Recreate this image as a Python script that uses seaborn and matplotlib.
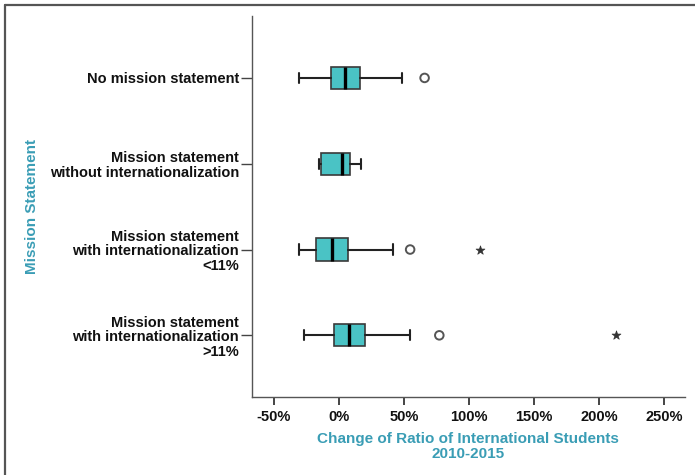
import matplotlib
matplotlib.use("Agg")
import matplotlib.pyplot as plt
from matplotlib.lines import Line2D
import seaborn as sns
import pandas as pd

# Groups (top to bottom) and their five-number summaries, in percent
categories = [
    "No mission statement",
    "Mission statement\nwithout internationalization",
    "Mission statement\nwith internationalization\n<11%",
    "Mission statement\nwith internationalization\n>11%",
]
whisker_low = [-30.3, -15.2, -30.5, -26.4]
q1 = [-6.2, -13.6, -17.5, -3.6]
median = [4.6, 2.3, -5.4, 7.9]
q3 = [16.2, 8.7, 7.4, 20.2]
whisker_high = [48.9, 17.2, 42.0, 54.8]

# Outliers (beyond 1.5 IQR) and extreme values (beyond 3 IQR)
outlier_group = [0, 2, 3]
outlier_value = [65.9, 54.8, 77.2]
extreme_group = [2, 3]
extreme_value = [108.7, 212.5]

x_ticks = [-50, 0, 50, 100, 150, 200, 250]

sns.set_theme(style="white")
plt.rcParams["font.family"] = ["Liberation Sans", "DejaVu Sans"]

teal = "#3A9DB5"
box_fill = "#4AC3C5"

fig = plt.figure(figsize=(6.95, 4.75), dpi=100)
ax = fig.add_axes([0.362, 0.164, 0.624, 0.802])

stats = [
    dict(whislo=lo, q1=a, med=m, q3=b, whishi=hi, fliers=[], label=c)
    for lo, a, m, b, hi, c in zip(whisker_low, q1, median, q3, whisker_high, categories)
]
ax.bxp(
    stats,
    positions=range(len(categories)),
    orientation="horizontal",
    widths=0.26,
    capwidths=0.12,
    patch_artist=True,
    showfliers=False,
    boxprops=dict(facecolor=box_fill, edgecolor="#3a3a3a", linewidth=1.2),
    medianprops=dict(color="black", linewidth=2.4),
    whiskerprops=dict(color="#222222", linewidth=1.5),
    capprops=dict(color="#222222", linewidth=1.5),
)

outliers = pd.DataFrame({"group": outlier_group, "value": outlier_value})
extremes = pd.DataFrame({"group": extreme_group, "value": extreme_value})
sns.scatterplot(data=outliers, x="value", y="group", ax=ax, marker="o", s=38,
                facecolor="none", edgecolor="#555555", linewidth=1.4, zorder=4)
sns.scatterplot(data=extremes, x="value", y="group", ax=ax, marker="*", s=45,
                color="#333333", edgecolor="#333333", linewidth=0.5, zorder=4)

ax.set_xlim(-66.9, 266)
ax.set_ylim(3.72, -0.72)
ax.set_xticks(x_ticks)
ax.set_xticklabels([f"{v}%" for v in x_ticks], fontsize=10.5, fontweight="bold", color="#111111")
ax.set_yticks(range(len(categories)))
ax.set_yticklabels(categories, fontsize=10.5, fontweight="bold", color="#111111",
                   ha="right", multialignment="right", linespacing=1.05)

ax.tick_params(axis="x", bottom=True, direction="out", length=6, width=1.4,
               color="#444444", pad=3)
ax.tick_params(axis="y", left=True, direction="out", length=8, width=1.0,
               color="#444444", pad=1)

for side in ["top", "right"]:
    ax.spines[side].set_visible(False)
for side in ["left", "bottom"]:
    ax.spines[side].set_color("#555555")
    ax.spines[side].set_linewidth(1.0)

ax.set_xlabel("Change of Ratio of International Students\n2010-2015",
              fontsize=11, fontweight="bold", color=teal, linespacing=1.1)
ax.xaxis.set_label_coords(0.5, -0.092)
ax.xaxis.label.set_va("top")
ax.set_ylabel("Mission Statement", fontsize=11, fontweight="bold", color=teal)
ax.yaxis.set_label_coords(-0.49, 0.5)

# Frame lines along the top and left of the figure
fig.add_artist(Line2D([5 / 695, 1.0], [1 - 5 / 475, 1 - 5 / 475], transform=fig.transFigure,
                      color="#555555", linewidth=1.6))
fig.add_artist(Line2D([5 / 695, 5 / 695], [0.0, 1 - 5 / 475], transform=fig.transFigure,
                      color="#555555", linewidth=1.6))

fig.savefig("out.png", dpi=100)
